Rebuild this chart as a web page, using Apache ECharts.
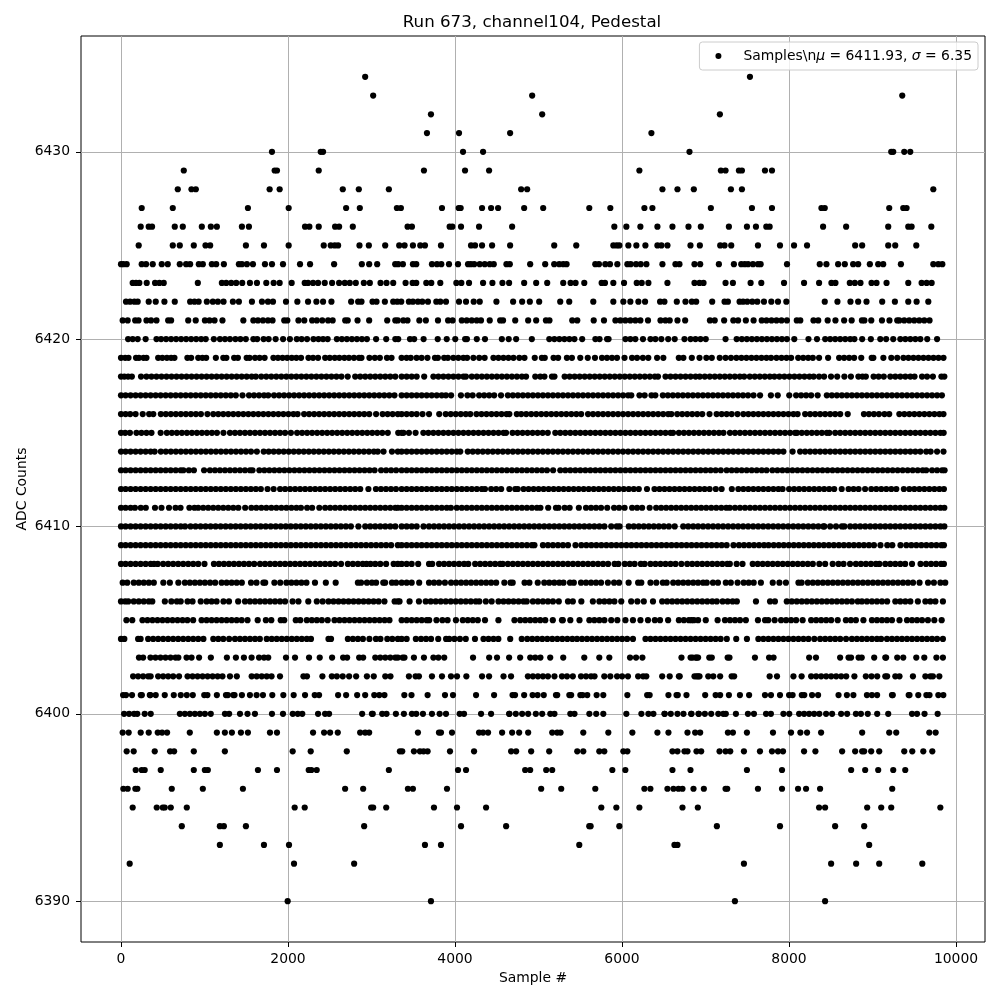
<!DOCTYPE html>
<html><head><meta charset="utf-8"><style>html,body{margin:0;padding:0;background:#fff}#c{width:1000px;height:1000px}</style>
<script src="https://cdn.jsdelivr.net/npm/echarts@6/dist/echarts.min.js"></script></head><body><div id="c"></div><script>
const titleText='Run 673, channel104, Pedestal';
const xTicks=[0,2000,4000,6000,8000,10000];
const yTicks=[6390,6400,6410,6420,6430];
const s6434=[2924,7532];
const s6433=[3020,4924,9356];
const s6432=[3712,5044,7172];
const s6431=[3664,4048,4660,6352];
const s6430=[1808,2392,2420,4096,4336,6808,9224,9248,9380,9452];
const s6429=[752,1840,1868,2368,3628,4120,4408,6208,7184,7240,7400,7436,7712,7796];
const s6428=[680,844,896,1780,1900,2656,2848,3208,4792,4864,6484,6664,6860,7304,7436,9728];
const s6427=[248,620,1520,2008,2696,2860,3304,3352,3844,4044,4068,4324,4432,4516,4828,5056,5608,5860,6268,6364,7064,7556,7796,8388,8428,9200,9368,9408];
const s6426=[236,332,372,644,740,968,1076,1148,1448,1532,2204,2256,2368,2564,2612,2776,3432,3484,3936,3968,4072,4288,4684,5908,6052,6220,6424,6604,6796,6944,7280,7496,7604,7728,7768,8408,8684,9188,9428,9468,9704];
const s6425=[212,620,704,872,1012,1068,1496,1712,2008,2428,2512,2560,2600,2856,2968,3164,3332,3396,3496,3584,3640,3832,4192,4240,4324,4444,4660,5188,5452,5896,5936,5968,6076,6172,6280,6424,6472,6544,6820,6932,7176,7228,7308,7628,7892,8060,8216,8792,8876,9188,9272,9524];
const s6424=[0,28,68,248,300,380,488,560,704,780,828,932,980,1088,1140,1232,1412,1448,1508,1580,1724,1808,1940,2144,2264,2552,2884,2972,3068,3284,3320,3376,3496,3536,3724,3784,3836,3928,4036,4156,4190,4230,4296,4356,4416,4464,4616,4656,4900,5080,5188,5248,5296,5336,5680,5724,5800,5856,5944,6064,6104,6168,6224,6292,6484,6640,6688,6868,6936,7160,7340,7428,7470,7510,7568,7628,7660,7976,8368,8448,8588,8668,8768,8828,8968,9068,9128,9340,9728,9788,9836];
const s6423=[140,180,220,308,408,460,512,920,1208,1260,1320,1380,1452,1544,1628,1740,1828,1900,2044,2200,2240,2300,2360,2440,2528,2612,2680,2740,2812,2908,2980,3108,3180,3260,3408,3492,3536,3656,3716,3824,4016,4076,4168,4336,4448,4568,4648,4828,4972,5104,5296,5384,5444,5548,5756,5796,5896,6024,6176,6236,6316,6544,6868,6928,6976,7240,7328,7540,7668,7940,8180,8360,8508,8556,8728,8788,8856,8988,9048,9168,9428,9588,9648,9708];
const s6422=[60,108,160,200,332,416,520,644,828,880,930,1028,1100,1160,1228,1340,1412,1568,1688,1760,1820,1976,2112,2240,2340,2420,2520,2756,2840,2880,3012,3060,3160,3260,3308,3356,3448,3496,3556,3608,3676,3776,3824,3892,4048,4132,4224,4296,4496,4696,4804,4896,5008,5260,5368,5656,5896,6016,6100,6196,6276,6456,6508,6656,6760,6836,6888,7080,7228,7268,7408,7450,7500,7560,7620,7700,7788,7868,7968,8428,8580,8736,8828,8928,9116,9268,9428,9528,9668];
const s6421=[20,80,170,210,305,360,425,565,600,805,895,1005,1060,1120,1215,1465,1585,1640,1700,1760,1815,1955,1992,2125,2195,2289,2345,2410,2480,2535,2685,2715,2833,2972,3188,3285,3315,3381,3431,3573,3651,3796,3917,3971,4081,4140,4200,4260,4311,4416,4541,4575,4721,4876,4972,5089,5131,5404,5464,5661,5784,5921,5980,6040,6100,6160,6220,6311,6461,6520,6571,6664,6756,7053,7110,7223,7333,7390,7483,7576,7673,7730,7790,7850,7910,7975,8093,8135,8293,8350,8463,8556,8660,8750,8873,8903,8985,9113,9203,9296,9321,9380,9440,9500,9560,9620,9683];
const s6420=[85,140,200,295,425,480,540,600,660,720,780,840,900,960,1015,1112,1185,1245,1305,1370,1430,1495,1585,1631,1708,1768,1852,1941,2023,2105,2163,2228,2305,2365,2420,2475,2585,2645,2705,2765,2825,2885,2945,3055,3176,3285,3320,3461,3511,3624,3793,3901,4003,4121,4143,4261,4359,4561,4643,4732,4920,5129,5190,5250,5310,5370,5430,5523,5681,5731,5821,5839,6041,6100,6160,6251,6341,6400,6471,6553,6631,6748,6821,6880,6940,7003,7240,7373,7435,7495,7555,7615,7675,7735,7795,7855,7915,7975,8063,8233,8335,8433,8493,8553,8613,8673,8733,8783,8876,8980,9093,9163,9248,9333,9393,9453,9513,9573,9655,9773];
const s6419=[0,50,90,180,215,270,305,445,495,550,600,640,795,840,925,975,1020,1136,1225,1262,1355,1400,1505,1540,1605,1660,1720,1825,1880,1935,1990,2045,2100,2156,2245,2300,2360,2445,2500,2560,2615,2675,2730,2790,2850,2880,2975,3040,3100,3185,3240,3360,3420,3470,3540,3600,3670,3760,3795,3870,3915,3980,4040,4100,4145,4220,4290,4355,4460,4520,4580,4640,4700,4770,4832,4955,5040,5075,5180,5235,5340,5400,5500,5590,5676,5760,5820,5880,5940,6030,6120,6180,6250,6315,6420,6495,6680,6735,6836,6928,7010,7075,7170,7240,7305,7370,7430,7490,7550,7610,7670,7730,7785,7850,7910,7970,8025,8110,8170,8230,8285,8360,8468,8600,8660,8720,8780,8865,8990,9010,9130,9225,9296,9370,9430,9490,9550,9610,9670,9730,9790,9850];
const s6418=[0,40,85,130,240,305,365,425,485,545,605,665,725,785,845,905,965,1025,1085,1145,1205,1265,1325,1385,1445,1505,1565,1615,1680,1740,1800,1860,1920,1980,2040,2100,2160,2220,2280,2340,2400,2460,2520,2580,2640,2715,2805,2865,2925,2985,3045,3105,3165,3225,3285,3361,3421,3481,3541,3631,3741,3801,3861,3921,3981,4041,4101,4131,4201,4261,4321,4381,4441,4501,4561,4621,4681,4741,4801,4851,4961,5021,5071,5161,5191,5313,5373,5433,5493,5553,5613,5673,5733,5793,5853,5913,5973,6033,6093,6153,6213,6273,6333,6393,6431,6521,6581,6641,6701,6761,6821,6881,6931,6991,7051,7111,7171,7231,7291,7351,7411,7463,7530,7590,7650,7710,7770,7825,7885,7945,8005,8065,8125,8185,8245,8295,8360,8420,8503,8577,8663,8741,8831,8880,8920,9013,9073,9135,9213,9273,9333,9393,9453,9503,9593,9653,9723,9825,9860];
const s6417=[0,55,115,175,235,295,355,415,475,535,595,655,715,775,835,895,955,1015,1075,1135,1195,1255,1315,1375,1455,1533,1593,1653,1713,1763,1833,1893,1953,2013,2073,2133,2193,2253,2313,2373,2433,2493,2553,2613,2673,2733,2793,2853,2913,2973,3033,3093,3153,3213,3275,3361,3421,3481,3541,3601,3661,3721,3781,3841,3891,3953,4071,4149,4211,4289,4349,4409,4469,4551,4633,4693,4753,4813,4873,4933,4993,5053,5113,5173,5233,5293,5353,5413,5473,5533,5593,5653,5713,5773,5833,5893,5953,6013,6073,6111,6209,6271,6353,6399,6489,6549,6609,6669,6729,6789,6849,6909,6969,7029,7089,7149,7209,7269,7329,7389,7449,7509,7575,7653,7783,7865,8003,8085,8145,8205,8265,8343,8453,8513,8573,8633,8693,8753,8813,8873,8933,8993,9053,9113,9173,9233,9293,9353,9413,9473,9533,9593,9653,9713,9773,9831];
const s6416=[0,55,110,175,260,337,387,477,537,597,657,717,777,837,897,957,1035,1105,1165,1225,1285,1345,1405,1465,1525,1585,1645,1705,1765,1825,1885,1945,2005,2065,2115,2193,2253,2313,2373,2433,2493,2553,2613,2673,2733,2793,2853,2913,2973,3055,3133,3193,3253,3315,3361,3421,3481,3541,3611,3689,3811,3889,3949,4009,4069,4129,4183,4257,4317,4377,4437,4497,4557,4617,4651,4740,4793,4853,4913,4973,5033,5093,5153,5213,5273,5333,5393,5453,5511,5593,5653,5713,5773,5833,5893,5953,6013,6073,6133,6193,6253,6313,6373,6433,6493,6553,6591,6661,6721,6781,6841,6901,6961,7048,7133,7193,7253,7313,7383,7453,7513,7573,7633,7693,7753,7813,7873,7933,7993,8053,8103,8193,8253,8313,8373,8433,8493,8553,8613,8703,8897,8957,9017,9077,9143,9200,9321,9381,9441,9501,9561,9621,9681,9741,9801,9850];
const s6415=[0,50,107,185,245,305,365,475,549,609,669,729,789,849,909,969,1029,1089,1149,1227,1305,1365,1425,1485,1545,1605,1665,1725,1785,1845,1905,1965,2035,2109,2169,2229,2289,2349,2409,2469,2529,2589,2649,2709,2769,2829,2889,2949,3009,3069,3129,3195,3320,3361,3383,3448,3528,3621,3681,3741,3801,3861,3921,3981,4041,4101,4161,4221,4281,4341,4401,4461,4521,4581,4611,4689,4749,4809,4869,4929,4989,5049,5111,5201,5261,5321,5381,5441,5501,5561,5621,5681,5741,5801,5861,5921,5981,6041,6101,6161,6221,6281,6341,6401,6461,6521,6581,6611,6681,6741,6801,6861,6921,6981,7041,7101,7161,7215,7293,7353,7413,7473,7533,7593,7653,7713,7773,7833,7893,7953,8013,8073,8095,8153,8213,8273,8333,8393,8453,8483,8553,8613,8673,8733,8793,8853,8913,8973,9033,9093,9153,9213,9273,9333,9393,9453,9513,9573,9633,9693,9753,9813,9852];
const s6414=[0,55,115,175,235,295,355,403,477,537,597,657,717,777,837,897,957,1017,1077,1137,1197,1257,1317,1377,1437,1497,1557,1627,1709,1769,1829,1889,1949,2009,2069,2129,2189,2249,2309,2369,2429,2489,2549,2609,2669,2729,2789,2849,2909,2969,3029,3075,3144,3245,3315,3361,3421,3481,3541,3601,3661,3721,3781,3841,3901,3961,4021,4063,4153,4213,4273,4333,4393,4453,4513,4573,4633,4693,4753,4813,4873,4933,4993,5053,5113,5173,5233,5293,5353,5413,5473,5533,5593,5653,5713,5773,5833,5893,5953,6013,6073,6133,6193,6253,6313,6373,6433,6493,6553,6613,6673,6733,6793,6853,6913,6973,7033,7093,7153,7213,7273,7333,7393,7453,7513,7573,7633,7693,7753,7813,7873,7933,8043,8133,8193,8253,8313,8373,8433,8493,8553,8613,8673,8733,8793,8853,8913,8973,9033,9093,9153,9213,9273,9333,9393,9453,9513,9573,9643,9696,9773,9850];
const s6413=[0,55,115,175,235,295,355,415,475,535,595,655,715,747,813,873,995,1065,1125,1185,1245,1305,1365,1425,1485,1545,1575,1657,1717,1777,1837,1897,1957,2017,2077,2137,2197,2257,2317,2377,2437,2497,2557,2617,2677,2737,2797,2857,2917,2977,3037,3115,3175,3235,3295,3361,3421,3481,3541,3601,3661,3721,3781,3841,3901,3961,4021,4081,4141,4201,4261,4321,4381,4441,4501,4561,4621,4681,4741,4801,4861,4921,4981,5041,5101,5175,5261,5321,5381,5441,5501,5561,5621,5681,5741,5801,5861,5921,5981,6041,6101,6161,6221,6281,6341,6401,6461,6521,6581,6641,6701,6761,6821,6881,6941,7001,7061,7121,7183,7253,7313,7373,7433,7493,7553,7613,7673,7731,7801,7861,7921,7981,8041,8101,8161,8221,8281,8341,8401,8461,8521,8581,8641,8701,8761,8821,8881,8941,9001,9061,9121,9181,9241,9301,9361,9421,9481,9541,9601,9643,9713,9773,9833,9863];
const s6412=[0,55,115,175,235,295,355,415,475,535,595,655,715,775,835,895,955,1015,1075,1135,1195,1255,1315,1375,1435,1495,1555,1615,1675,1755,1828,1905,1965,2025,2085,2145,2205,2265,2325,2385,2445,2505,2565,2625,2685,2745,2805,2865,2963,3053,3113,3173,3233,3293,3361,3421,3481,3541,3601,3661,3721,3781,3841,3901,3961,4021,4081,4141,4201,4261,4321,4359,4433,4493,4553,4651,4721,4751,4821,4881,4941,5001,5061,5121,5181,5241,5301,5361,5421,5481,5541,5601,5661,5721,5781,5841,5901,5961,6021,6081,6141,6201,6299,6389,6449,6509,6569,6629,6689,6749,6809,6869,6929,6989,7049,7123,7193,7315,7393,7453,7513,7573,7633,7693,7753,7813,7873,7923,8001,8061,8121,8181,8241,8301,8361,8421,8481,8541,8631,8713,8773,8833,8911,8985,9045,9105,9165,9225,9285,9375,9441,9501,9561,9621,9681,9741,9801,9855];
const s6411=[0,55,115,167,237,297,407,485,575,653,713,819,880,925,985,1045,1105,1165,1225,1285,1345,1405,1487,1561,1621,1681,1741,1801,1861,1921,1981,2041,2101,2155,2229,2289,2375,2445,2505,2565,2625,2685,2745,2805,2865,2925,2985,3045,3105,3165,3225,3285,3315,3361,3421,3481,3541,3601,3661,3721,3781,3841,3901,3951,4021,4081,4141,4201,4261,4321,4381,4441,4501,4561,4621,4681,4741,4801,4861,4921,4981,5023,5116,5209,5239,5313,5373,5483,5569,5629,5689,5749,5823,5905,5965,6031,6121,6181,6241,6331,6409,6469,6529,6589,6649,6709,6769,6829,6889,6949,7009,7069,7129,7189,7249,7291,7353,7413,7473,7533,7593,7653,7713,7773,7833,7893,7953,8013,8073,8133,8193,8253,8313,8373,8433,8493,8553,8613,8673,8733,8793,8853,8913,8973,9033,9093,9153,9213,9273,9333,9393,9453,9513,9573,9633,9693,9753,9813,9860];
const s6410=[0,55,115,175,235,295,355,415,475,535,595,655,715,767,833,893,953,1013,1073,1133,1193,1253,1313,1373,1433,1493,1553,1613,1673,1733,1793,1853,1913,1973,2033,2093,2153,2213,2273,2333,2393,2453,2513,2573,2633,2693,2753,2843,2925,2985,3045,3105,3165,3225,3285,3361,3421,3481,3541,3623,3689,3749,3809,3869,3929,3989,4049,4109,4169,4229,4289,4349,4409,4469,4529,4589,4649,4709,4769,4829,4889,4949,5009,5069,5129,5189,5249,5309,5369,5429,5489,5549,5609,5669,5729,5789,5871,5937,5971,6081,6141,6201,6261,6321,6381,6441,6501,6561,6631,6733,6793,6853,6911,6971,7031,7091,7151,7211,7271,7331,7391,7451,7511,7571,7631,7691,7751,7811,7871,7931,7991,8051,8111,8171,8231,8291,8351,8411,8423,8493,8563,8633,8663,8733,8793,8853,8913,8973,9033,9093,9153,9213,9273,9333,9393,9453,9513,9573,9633,9693,9753,9813,9860];
const s6409=[0,55,115,175,235,295,355,415,475,535,595,655,715,775,835,895,955,1015,1075,1135,1195,1255,1315,1375,1435,1495,1555,1615,1675,1735,1795,1855,1915,1975,2035,2095,2155,2215,2275,2335,2395,2455,2515,2575,2635,2695,2755,2815,2875,2935,2995,3055,3115,3175,3235,3315,3361,3421,3481,3541,3601,3661,3721,3781,3841,3901,3961,4021,4081,4141,4201,4261,4321,4381,4441,4501,4561,4621,4681,4741,4801,4861,4921,4951,5053,5113,5173,5233,5293,5353,5443,5513,5573,5633,5693,5753,5813,5873,5933,5993,6053,6113,6173,6233,6293,6353,6413,6473,6533,6593,6653,6713,6773,6833,6893,6953,7013,7073,7133,7193,7253,7335,7401,7461,7521,7581,7641,7701,7755,7817,7877,7937,7997,8057,8117,8177,8237,8297,8357,8417,8477,8537,8597,8657,8717,8777,8837,8897,8957,9017,9095,9177,9237,9335,9405,9465,9525,9585,9645,9705,9765,9825,9855];
const s6408=[0,55,115,175,235,295,355,395,440,505,565,625,685,745,805,865,925,1000,1113,1173,1233,1293,1353,1413,1473,1533,1595,1665,1725,1785,1845,1905,1965,2025,2085,2145,2205,2265,2325,2385,2445,2505,2565,2635,2717,2777,2837,2895,2940,2988,3045,3105,3175,3265,3315,3361,3421,3481,3559,3689,3727,3809,3869,3929,3989,4049,4109,4159,4241,4301,4361,4421,4481,4541,4571,4633,4693,4753,4813,4873,4933,4993,5053,5113,5173,5233,5293,5353,5413,5473,5533,5593,5653,5713,5773,5833,5911,5956,6033,6093,6151,6225,6271,6341,6401,6461,6521,6581,6641,6711,6781,6841,6901,6961,7021,7081,7141,7201,7261,7291,7373,7443,7565,7625,7685,7745,7805,7865,7925,7985,8045,8105,8165,8225,8285,8363,8433,8523,8593,8653,8731,8801,8861,8921,8981,9041,9083,9153,9213,9273,9333,9391,9473,9575,9641,9701,9761,9821,9855];
const s6407=[20,75,153,213,273,333,393,507,585,687,765,825,885,945,1005,1067,1128,1205,1265,1325,1385,1447,1557,1623,1705,1727,1837,1907,1981,2041,2101,2161,2221,2323,2453,2571,2837,2875,2945,3005,3055,3141,3163,3245,3295,3361,3421,3481,3571,3689,3749,3809,3879,3953,4013,4073,4133,4193,4253,4313,4373,4433,4493,4591,4665,4691,4833,4891,4991,5069,5129,5189,5249,5299,5377,5423,5509,5569,5629,5689,5749,5831,5905,5965,6079,6193,6231,6341,6411,6489,6535,6613,6673,6733,6793,6853,6911,6971,7015,7089,7149,7243,7303,7384,7457,7517,7577,7663,7805,7885,7963,8113,8151,8225,8285,8345,8405,8465,8525,8585,8645,8705,8765,8825,8885,8945,9005,9065,9125,9185,9245,9305,9365,9425,9485,9563,9665,9735,9813,9871];
const s6406=[0,50,87,153,213,273,333,375,525,603,669,715,797,857,955,1025,1085,1145,1227,1293,1403,1485,1545,1605,1665,1725,1785,1845,1905,1965,2055,2125,2243,2345,2415,2485,2545,2605,2665,2725,2785,2845,2905,2965,3025,3085,3155,3277,3315,3336,3456,3568,3649,3709,3769,3829,3889,3949,4009,4069,4129,4189,4249,4291,4369,4439,4521,4581,4641,4701,4761,4821,4859,4933,4993,5053,5113,5173,5243,5353,5411,5513,5651,5729,5789,5849,5909,5991,6110,6184,6261,6371,6481,6541,6601,6661,6721,6781,6841,6901,6961,7021,7081,7135,7205,7265,7325,7375,7604,7773,7831,7973,8033,8093,8153,8213,8273,8333,8393,8453,8513,8573,8633,8693,8753,8823,8873,8933,8993,9053,9113,9175,9273,9333,9393,9453,9543,9633,9693,9753,9843];
const s6405=[65,135,257,317,377,437,497,557,617,677,737,795,864,965,1025,1085,1145,1205,1265,1325,1385,1445,1515,1637,1735,1800,1913,1955,2093,2147,2225,2285,2345,2405,2475,2557,2617,2677,2737,2797,2857,2917,2977,3037,3097,3157,3215,3361,3421,3481,3541,3601,3661,3691,3778,3849,3911,4011,4093,4153,4213,4273,4359,4520,4712,4781,4841,4901,4961,5021,5081,5171,5281,5291,5381,5491,5609,5669,5729,5789,5871,5944,6041,6131,6221,6311,6393,6455,6552,6681,6741,6801,6861,6911,6833,7003,7145,7233,7293,7353,7413,7483,7628,7713,7751,7828,7905,7965,8025,8085,8163,8265,8325,8385,8445,8505,8583,8681,8741,8801,8891,8993,9053,9113,9173,9233,9323,9413,9473,9533,9593,9663,9740,9828];
const s6404=[0,40,205,235,325,385,445,505,565,625,685,745,805,865,925,987,1105,1165,1225,1295,1365,1425,1485,1545,1605,1663,1745,1805,1865,1925,1985,2045,2105,2165,2225,2275,2485,2515,2717,2777,2837,2897,2975,3053,3107,3189,3249,3315,3361,3421,3531,3593,3653,3713,3799,3893,3931,3993,4059,4129,4239,4341,4401,4461,4519,4661,4799,4865,4925,4985,5045,5105,5165,5225,5285,5345,5405,5461,5521,5581,5641,5701,5761,5821,5881,5941,6001,6061,6131,6281,6341,6401,6461,6521,6581,6641,6701,6761,6821,6881,6941,7001,7061,7121,7181,7255,7368,7496,7633,7693,7753,7813,7873,7933,7993,8053,8113,8173,8233,8303,8373,8433,8493,8553,8613,8683,8753,8813,8873,8933,8993,9053,9103,9173,9233,9293,9353,9413,9473,9533,9593,9653,9713,9773,9843];
const s6403=[215,265,353,413,473,533,593,653,687,785,845,935,1076,1268,1376,1472,1564,1653,1713,1763,1976,2084,2252,2380,2528,2660,2708,2852,2900,3045,3105,3165,3225,3285,3315,3373,3395,3508,3628,3741,3801,3871,4216,4409,4503,4648,4780,4901,4961,5023,5140,5296,5548,5728,5848,6096,6168,6244,6712,6821,6881,6911,6845,6895,7045,7075,7265,7287,7592,7761,7815,8241,8323,8612,8713,8743,8833,8871,9020,9153,9163,9296,9368,9524,9620,9765,9843];
const s6402=[145,205,265,325,355,445,505,565,625,695,797,857,917,977,1037,1097,1157,1215,1305,1387,1565,1625,1685,1745,1803,1904,2185,2227,2412,2525,2585,2655,2732,2816,2945,3027,3165,3227,3448,3528,3568,3724,3844,3952,4024,4136,4324,4408,4581,4671,4873,4933,4993,5053,5113,5191,5281,5341,5411,5509,5569,5629,5671,5788,5860,5941,6001,6071,6193,6253,6291,6481,6571,6681,6691,6893,6911,6868,6928,7033,7093,7175,7313,7343,7768,7856,8053,8151,8265,8325,8385,8445,8505,8565,8625,8685,8783,8920,8988,9056,9153,9175,9273,9323,9484,9633,9693,9723,9800];
const s6401=[25,60,132,237,250,345,352,416,524,632,716,788,860,997,1035,1148,1257,1280,1345,1360,1448,1544,1624,1700,1812,1944,2068,2204,2320,2372,2600,2696,2828,2924,3033,3093,3155,3393,3479,3672,3880,3976,4252,4468,4689,4719,4828,4929,4989,5063,5209,5224,5369,5391,5501,5528,5584,5696,5776,6064,6301,6331,6556,6653,6668,6772,6996,7121,7175,7280,7412,7522,7712,7784,7892,8001,8043,8153,8183,8276,8348,8593,8693,8771,8933,8993,9055,9233,9243,9433,9443,9548,9645,9683,9788,9848];
const s6400=[37,97,157,195,284,356,705,765,825,885,945,1005,1075,1245,1295,1425,1515,1604,1808,1940,2057,2117,2171,2360,2444,2492,2888,3005,3015,3128,3180,3292,3388,3484,3536,3616,3724,3816,3892,4056,4108,4312,4432,4649,4651,4728,4804,4876,4968,5044,5141,5191,5381,5431,5609,5691,5776,6052,6232,6316,6376,6509,6511,6584,6664,6736,6832,6916,6828,6920,6992,7068,7153,7213,7243,7364,7508,7580,7725,7783,7933,8003,8121,8181,8241,8301,8363,8444,8516,8624,8696,8801,8861,8943,9056,9188,9473,9533,9623,9780];
const s6399=[20,92,236,332,440,492,552,824,1148,1244,1328,1436,1520,1784,1868,2300,2432,2504,2596,2864,2924,2972,3556,3808,3832,3964,4288,4336,4396,4564,4684,4768,4876,5164,5224,5264,5536,5836,6124,6424,6556,6784,6876,6936,7268,7328,7496,7808,8024,8136,8216,8384,8876,9200,9284,9680,9756];
const s6398=[68,152,404,588,636,872,1244,2056,2272,2704,3340,3368,3508,3580,3624,3672,3940,4228,4672,4732,4912,5128,5464,5536,5728,5788,6016,6064,6604,6664,6748,6784,6892,6948,7168,7240,7296,7460,7652,7796,7868,7928,8180,8316,8636,8792,8876,8900,8984,9080,9380,9476,9608,9716];
const s6397=[176,248,284,476,872,1004,1040,1640,1868,2248,2280,2344,3208,4036,4132,4840,4900,5092,5164,5884,6040,6604,6820,7496,7916,8744,8912,9068,9248,9392];
const s6396=[28,80,172,196,608,980,1460,2684,2900,3436,3496,3904,5032,5272,5680,6268,6340,6544,6616,6676,6724,6856,6980,7240,7260,7628,7916,8108,8204,8372,9236];
const s6395=[140,428,500,524,596,788,2080,2200,2996,3020,3176,3748,4024,4372,5752,5932,6208,6724,6908,8360,8432,8936,9104,9224,9812];
const s6394=[728,1184,1232,1496,2912,4072,4612,5608,5624,5968,7136,7892,8552,8900];
const s6393=[1184,1712,2012,3640,3832,5488,6628,6664,8960];
const s6392=[104,2072,2792,7460,8504,8804,9080,9596];
const s6390=[1996,3712,7352,8432];
const levels=[[6434,s6434],[6433,s6433],[6432,s6432],[6431,s6431],[6430,s6430],[6429,s6429],[6428,s6428],[6427,s6427],[6426,s6426],[6425,s6425],[6424,s6424],[6423,s6423],[6422,s6422],[6421,s6421],[6420,s6420],[6419,s6419],[6418,s6418],[6417,s6417],[6416,s6416],[6415,s6415],[6414,s6414],[6413,s6413],[6412,s6412],[6411,s6411],[6410,s6410],[6409,s6409],[6408,s6408],[6407,s6407],[6406,s6406],[6405,s6405],[6404,s6404],[6403,s6403],[6402,s6402],[6401,s6401],[6400,s6400],[6399,s6399],[6398,s6398],[6397,s6397],[6396,s6396],[6395,s6395],[6394,s6394],[6393,s6393],[6392,s6392],[6390,s6390]];
const points=[];levels.forEach(([v,xs])=>xs.forEach(x=>points.push([x,v])));
const F='"DejaVu Sans"';
const seriesName='Samples\\nμ = 6411.93, σ = 6.35';
const chart=echarts.init(document.getElementById('c'),null,{renderer:'canvas'});
const axisBase={axisLine:{show:false,onZero:false},splitLine:{show:true,lineStyle:{color:'#b0b0b0',width:1}},nameLocation:'middle',nameMoveOverlap:false,nameTextStyle:{fontFamily:F,fontSize:13.9,color:'#000'}};
chart.setOption({animation:false,backgroundColor:'#fff',
title:{text:titleText,left:527,top:9,textAlign:'center',textStyle:{fontFamily:F,fontSize:16.67,fontWeight:'normal',color:'#000'}},
grid:{left:81,right:15,top:36,bottom:58,outerBoundsMode:'none',show:true,borderColor:'#000',borderWidth:1,backgroundColor:'transparent'},
legend:{show:true,right:22,top:42,orient:'horizontal',padding:[7,6,7,16],itemWidth:40,itemHeight:6,backgroundColor:'rgba(255,255,255,0.8)',borderColor:'#ccc',borderWidth:1,borderRadius:3,
 data:[{name:seriesName,icon:'circle',itemStyle:{color:'#000'}}],
 formatter:()=>'Samples\\n{i|μ} = 6411.93, {i|σ} = 6.35',
 textStyle:{fontFamily:F,fontSize:13.9,color:'#000',rich:{i:{fontFamily:F,fontStyle:'italic',fontSize:13.9,color:'#000'}}}},
xAxis:Object.assign({},axisBase,{type:'value',min:-479,max:10347,name:'Sample #',nameGap:29,axisTick:{customValues:xTicks,length:5,lineStyle:{color:'#000'}},axisLabel:{customValues:xTicks,fontFamily:F,fontSize:13.9,color:'#000',margin:10,formatter:v=>String(v)}}),
yAxis:Object.assign({},axisBase,{type:'value',min:6387.82,max:6436.18,name:'ADC Counts',nameGap:52,axisTick:{customValues:yTicks,length:5,lineStyle:{color:'#000'}},axisLabel:{customValues:yTicks,fontFamily:F,fontSize:13.9,color:'#000',margin:11,formatter:v=>String(v)}}),
series:[{name:seriesName,type:'scatter',data:points,symbol:'circle',symbolSize:6.2,itemStyle:{color:'#000',opacity:1},silent:true,large:false,z:5}]});
</script></body></html>
